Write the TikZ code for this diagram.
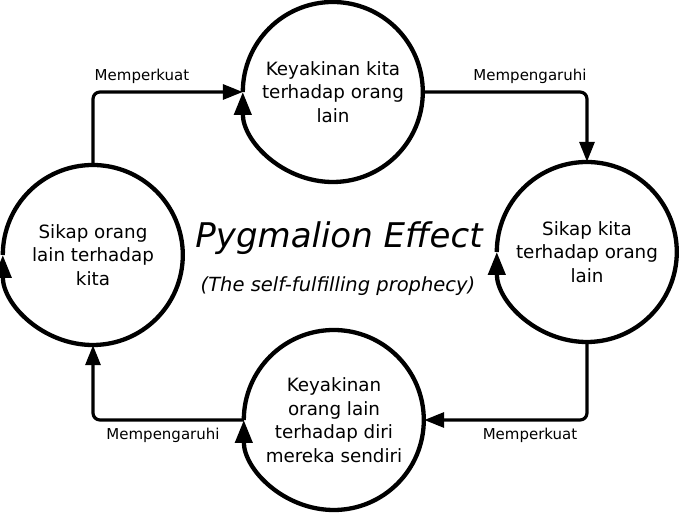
\documentclass[tikz,border=0pt]{standalone}
\usepackage{fontspec}
\setmainfont{DejaVu Sans}
\usetikzlibrary{arrows.meta}
\begin{document}
\begin{tikzpicture}[x=1pt,y=1pt,
  circ/.style={circle, minimum size=180pt, inner sep=0pt, align=center,
    font=\fontsize{18.3}{23.5}\selectfont},
  ring/.style={line width=4.3pt, -{Triangle[length=23pt,width=17pt]}},
  link/.style={line width=3.2pt, rounded corners=7pt, -{Triangle[length=20pt,width=15pt]}},
  lbl/.style={font=\fontsize{15}{17}\selectfont, inner sep=1pt}]
\useasboundingbox (0,0) rectangle (680,513);
% circles
\node[circ] (top) at (333,421) {Keyakinan kita\\terhadap orang\\lain};
\node[circ] (left) at (93,258) {Sikap orang\\lain terhadap\\kita};
\node[circ] (right) at (587,261) {Sikap kita\\terhadap orang\\lain};
\node[circ] (bottom) at (334,93) {Keyakinan\\orang lain\\terhadap diri\\mereka sendiri};
% rings with arrowheads
\foreach \n in {top,left,right,bottom}
  \draw[ring] (\n.west) arc[start angle=180, end angle=-180, radius=90pt];
% connectors
\draw[link] (left.north) |- (top.west);
\draw[link] (top.east) -| (right.north);
\draw[link] (right.south) |- (bottom.east);
\draw[link] (bottom.west) -| (left.south);
% labels
\node[lbl] (l1) at (142,437) {Memperkuat};
\node[lbl] (l2) at (530,437) {Mempengaruhi};
\node[lbl] (l3) at (530,78) {Memperkuat};
\node[lbl] (l4) at (163,78) {Mempengaruhi};
% title
\node[font=\fontsize{34}{38}\selectfont\itshape] (title) at (339,275) {Pygmalion Effect};
\node[font=\fontsize{19.5}{22}\selectfont\itshape] (sub) at (338,227) {(The self-fulfilling prophecy)};
\end{tikzpicture}
\end{document}
